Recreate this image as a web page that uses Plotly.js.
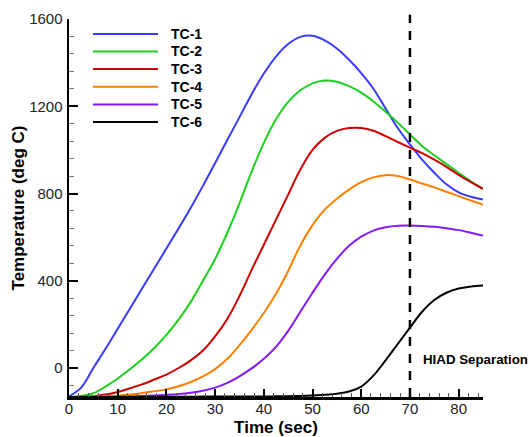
<!DOCTYPE html>
<html>
<head>
<meta charset="utf-8">
<script src="https://cdn.plot.ly/plotly-3.0.1.min.js"></script>
<style>html,body{margin:0;padding:0;background:#fff;}#chart{width:529px;height:437px;}</style>
</head>
<body>
<div id="chart"></div>
<script>
// ---- data ----
var seriesNames = ["TC-1", "TC-2", "TC-3", "TC-4", "TC-5", "TC-6"];
var seriesColors = ["#3a3aff", "#1ccf1c", "#cc0000", "#ff8000", "#8418ff", "#000000"];

// time samples (sec)
var timeSec = [0, 2.5, 5, 7.5, 10, 12.5, 15, 17.5, 20, 22.5, 25, 27.5, 30, 32.5, 35, 37.5, 40, 42.5,
               45, 47.5, 50, 52.5, 55, 57.5, 60, 62.5, 65, 67.5, 70, 72.5, 75, 77.5, 80, 82.5, 85];

// temperatures (deg C)
var tc1Temp = [-130, -90, 0, 88, 180, 272, 364, 456, 548, 640, 735, 835, 940, 1045, 1150, 1255, 1350, 1428,
               1485, 1518, 1523, 1502, 1465, 1413, 1352, 1280, 1190, 1100, 1025, 955, 895, 842, 805, 785, 772];
var tc2Temp = [-132, -128, -116, -85, -48, -6, 40, 92, 152, 222, 303, 400, 500, 620, 755, 900, 1032, 1140,
               1220, 1273, 1305, 1318, 1312, 1292, 1262, 1222, 1175, 1125, 1071, 1018, 975, 935, 895, 856, 822];
var tc3Temp = [-133, -132, -129, -122, -110, -93, -75, -53, -30, 0, 35, 80, 145, 225, 330, 450, 565, 680,
               795, 910, 1000, 1055, 1087, 1100, 1100, 1088, 1063, 1036, 1010, 985, 955, 922, 885, 852, 821];
var tc4Temp = [-133, -133, -132, -130, -127, -122, -115, -107, -98, -84, -64, -38, -5, 42, 105, 175, 252, 340,
               445, 562, 655, 726, 776, 818, 852, 874, 884, 880, 864, 846, 828, 808, 788, 768, 749];
var tc5Temp = [-133, -133, -133, -132, -131, -130, -128, -126, -123, -119, -113, -104, -90, -68, -38, -2, 42, 97,
               170, 258, 345, 428, 500, 560, 602, 630, 645, 652, 653, 651, 647, 641, 632, 620, 607];
var tc6Temp = [-133, -133, -133, -133, -133, -133, -132, -132, -132, -132, -132, -131, -131, -131, -131, -131, -131, -130,
               -129, -128, -126, -123, -118, -108, -85, -35, 35, 110, 185, 258, 312, 345, 364, 373, 378];

var separationTime = 70;
var separationLabel = "HIAD Separation";

var xTickVals = [0, 10, 20, 30, 40, 50, 60, 70, 80];
var yTickVals = [0, 400, 800, 1200, 1600];

// ---- build ----
var temps = [tc1Temp, tc2Temp, tc3Temp, tc4Temp, tc5Temp, tc6Temp];
var font = "Arial, 'Liberation Sans', sans-serif";

var traces = seriesNames.map(function (n, i) {
  return {
    x: timeSec, y: temps[i], name: n, type: "scatter", mode: "lines",
    line: {color: seriesColors[i], width: 2, shape: "spline", smoothing: 1},
    showlegend: false, hoverinfo: "skip", cliponaxis: true
  };
});

// manual legend (long line samples like the reference)
var shapes = [];
var annotations = [];
var plotL = 69, plotW = 414, plotB = 397, plotH = 378;
function px2paperX(px) { return (px - plotL) / plotW; }
function px2paperY(py) { return (plotB - py) / plotH; }
var legendRows = [34, 51.5, 69, 86.8, 104.5, 122];
seriesNames.forEach(function (n, i) {
  shapes.push({type: "line", xref: "paper", yref: "paper",
    x0: px2paperX(93), x1: px2paperX(158), y0: px2paperY(legendRows[i]), y1: px2paperY(legendRows[i]),
    line: {color: seriesColors[i], width: 2}});
  annotations.push({xref: "paper", yref: "paper", x: px2paperX(169), y: px2paperY(legendRows[i]),
    xanchor: "left", yanchor: "middle", showarrow: false, text: "<b>" + n + "</b>",
    font: {family: font, size: 14, color: "#000"}});
});

shapes.push({type: "line", xref: "x", yref: "paper", x0: separationTime, x1: separationTime, y0: 0, y1: 1.011,
  line: {color: "#000", width: 2.5, dash: "9px,8px"}});
annotations.push({xref: "x", yref: "y", x: separationTime + 2.3, y: 37, xanchor: "left", yanchor: "middle",
  showarrow: false, text: "<b>" + separationLabel + "</b>", font: {family: font, size: 13.3, color: "#000"}});

var layout = {
  width: 529, height: 437,
  margin: {l: 69, r: 46, t: 19, b: 40, pad: 0},
  paper_bgcolor: "#fff", plot_bgcolor: "#fff",
  showlegend: false,
  font: {family: font, color: "#000"},
  xaxis: {
    range: [0, 85], tickvals: xTickVals, ticktext: xTickVals.map(String),
    showgrid: false, zeroline: false, showline: true, linecolor: "#000", linewidth: 2.5,
    ticks: "inside", ticklen: 8, tickwidth: 2, tickcolor: "#000",
    tickfont: {family: font, size: 15, color: "#222"},
    ticklabelstandoff: -4,
    minor: {dtick: 2, tick0: 0, ticks: "inside", ticklen: 4, tickwidth: 1, tickcolor: "#555", showgrid: false},
    title: {text: "<b>Time (sec)</b>", font: {family: font, size: 17, color: "#000"}, standoff: 10}
  },
  yaxis: {
    range: [-133, 1600], tickvals: yTickVals, ticktext: yTickVals.map(String),
    showgrid: false, zeroline: false, showline: true, linecolor: "#000", linewidth: 2.5,
    ticks: "inside", ticklen: 9, tickwidth: 2, tickcolor: "#000",
    tickfont: {family: font, size: 15, color: "#222"},
    ticklabelstandoff: 1,
    minor: {dtick: 80, tick0: 0, ticks: "inside", ticklen: 5, tickwidth: 1, tickcolor: "#777", showgrid: false},
    title: {text: "<b>Temperature (deg C)</b>", font: {family: font, size: 17, color: "#000"}, standoff: 0}
  },
  shapes: shapes,
  annotations: annotations
};

Plotly.newPlot("chart", traces, layout, {staticPlot: true, displayModeBar: false});
</script>
</body>
</html>
